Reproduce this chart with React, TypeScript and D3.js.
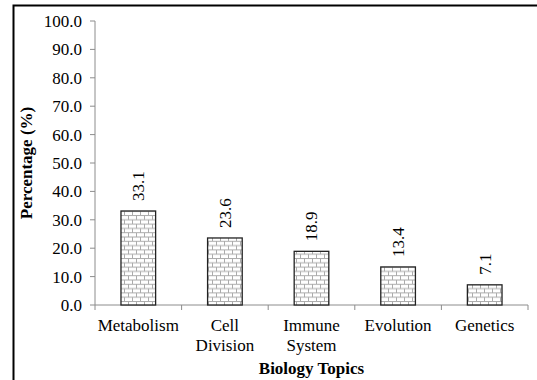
import React from "react";
import * as d3 from "d3";

const categories: string[][] = [
  ["Metabolism"],
  ["Cell", "Division"],
  ["Immune", "System"],
  ["Evolution"],
  ["Genetics"],
];
const values: number[] = [33.1, 23.6, 18.9, 13.4, 7.1];
const yTicks: number[] = [0, 10, 20, 30, 40, 50, 60, 70, 80, 90, 100];
const xTitle = "Biology Topics";
const yTitle = "Percentage (%)";

const W = 537;
const H = 380;
const plot = { left: 95, right: 528, top: 21, bottom: 305 };
const FONT = "'Liberation Serif', 'Times New Roman', serif";

export default function App() {
  const keys = categories.map((c) => c.join(" "));
  const x = d3
    .scaleBand<string>()
    .domain(keys)
    .range([plot.left, plot.right])
    .paddingInner(0.6)
    .paddingOuter(0.3);
  const y = d3.scaleLinear().domain([0, 100]).range([plot.bottom, plot.top]);
  const boundaries = d3
    .range(keys.length + 1)
    .map((i) => plot.left + i * ((plot.right - plot.left) / keys.length));
  const axisColor = "#8c8c8c";
  const brickLine = "#ababab";

  return (
    <svg
      width={W}
      height={H}
      style={{ position: "absolute", left: 0, top: 0, background: "#fff" }}
      fontFamily={FONT}
    >
      <defs>
        {/* brick fill for the bars */}
        <pattern id="brick" patternUnits="userSpaceOnUse" width={8} height={8.6} x={0} y={0}>
          <rect width={8} height={8.6} fill="#fff" />
          <line x1={0} y1={0.5} x2={8} y2={0.5} stroke={brickLine} strokeWidth={1} />
          <line x1={0} y1={4.8} x2={8} y2={4.8} stroke={brickLine} strokeWidth={1} />
          <line x1={0.5} y1={0.5} x2={0.5} y2={4.8} stroke={brickLine} strokeWidth={1} />
          <line x1={4.5} y1={4.8} x2={4.5} y2={8.6} stroke={brickLine} strokeWidth={1} />
        </pattern>
      </defs>

      {/* outer frame */}
      <path d={`M13.5,${H} L13.5,5.5 L${W},5.5`} fill="none" stroke="#000" strokeWidth={2} />

      {/* y axis */}
      <line x1={plot.left} y1={plot.top} x2={plot.left} y2={plot.bottom} stroke={axisColor} />
      {yTicks.map((t) => (
        <g key={t}>
          <line x1={plot.left - 5} x2={plot.left} y1={y(t)} y2={y(t)} stroke={axisColor} />
          <text x={plot.left - 13} y={y(t)} dy="0.35em" textAnchor="end" fontSize={17}>
            {t.toFixed(1)}
          </text>
        </g>
      ))}

      {/* x axis */}
      <line x1={plot.left} y1={plot.bottom} x2={plot.right} y2={plot.bottom} stroke={axisColor} />
      {boundaries.map((b, i) => (
        <line key={i} x1={b} x2={b} y1={plot.bottom} y2={plot.bottom + 5} stroke={axisColor} />
      ))}

      {/* bars with rotated value labels */}
      {values.map((v, i) => {
        const bx = x(keys[i])!;
        const bw = x.bandwidth();
        const cx = bx + bw / 2;
        return (
          <g key={keys[i]}>
            <rect
              x={bx}
              y={y(v)}
              width={bw}
              height={plot.bottom - y(v)}
              fill="url(#brick)"
              stroke="#222"
              strokeWidth={1.3}
            />
            <text
              transform={`translate(${cx},${y(v) - 10}) rotate(-90)`}
              dy="0.35em"
              textAnchor="start"
              fontSize={17}
            >
              {v.toFixed(1)}
            </text>
          </g>
        );
      })}

      {/* category labels */}
      {categories.map((lines, i) => {
        const cx = x(keys[i])! + x.bandwidth() / 2;
        return (
          <text key={keys[i]} x={cx} y={331} textAnchor="middle" fontSize={17}>
            {lines.map((l, j) => (
              <tspan key={j} x={cx} dy={j === 0 ? 0 : 20}>
                {l}
              </tspan>
            ))}
          </text>
        );
      })}

      {/* axis titles */}
      <text x={(plot.left + plot.right) / 2} y={374} textAnchor="middle" fontSize={17} fontWeight="bold">
        {xTitle}
      </text>
      <text
        transform={`translate(32,${(plot.top + plot.bottom) / 2}) rotate(-90)`}
        textAnchor="middle"
        fontSize={17}
        fontWeight="bold"
      >
        {yTitle}
      </text>
    </svg>
  );
}
